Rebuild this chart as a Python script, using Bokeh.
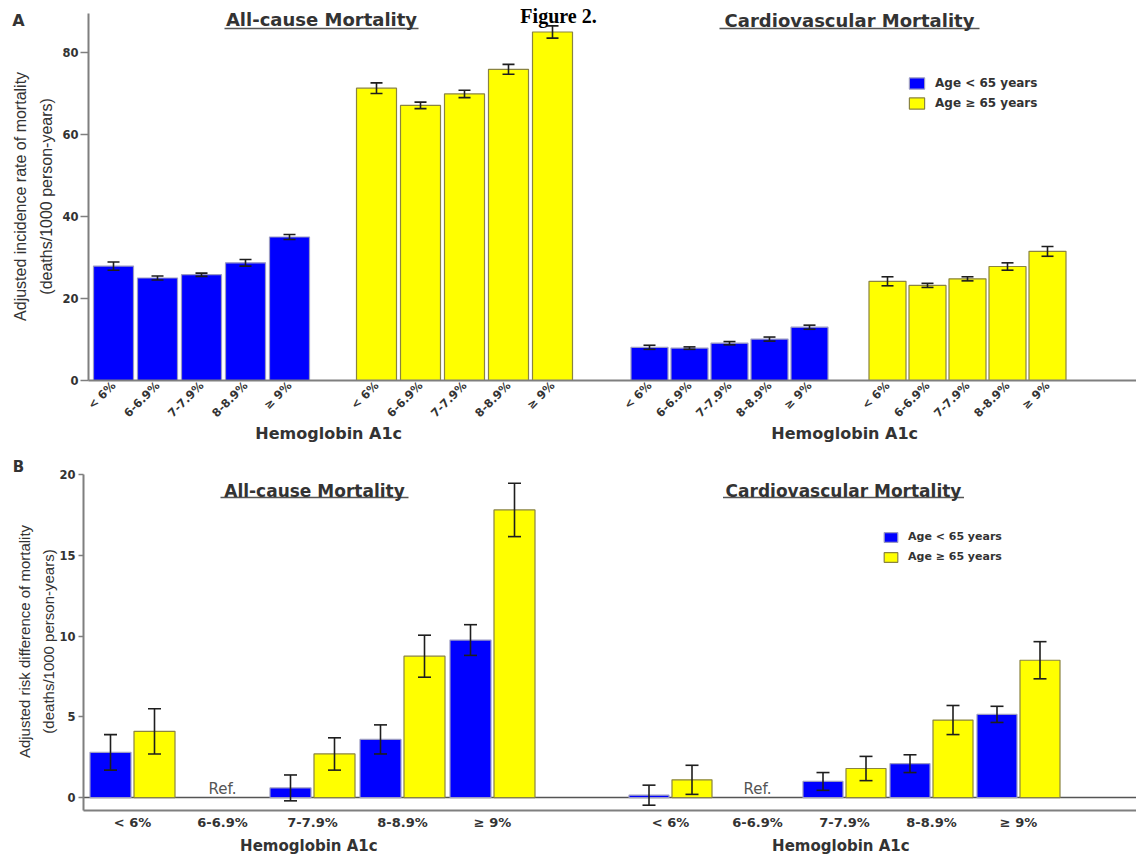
import math
from bokeh.plotting import figure
from bokeh.models import (Range1d, FixedTicker, ColumnDataSource, Whisker, TeeHead,
                          Label, Legend, LegendItem)
from bokeh.layouts import column
from bokeh.embed import file_html
from bokeh.resources import INLINE
from bokeh.core.properties import value

# ---------------- data ----------------
hba1c = ["< 6%", "6-6.9%", "7-7.9%", "8-8.9%", "\u2265 9%"]
age_groups = ["Age < 65 years", "Age \u2265 65 years"]
outcomes = ["All-cause Mortality", "Cardiovascular Mortality"]

# Panel A: adjusted incidence rate (deaths/1000 person-years)
inc_all_young = [27.9, 25.0, 25.8, 28.7, 35.0]
inc_all_young_err = [1.0, 0.5, 0.4, 0.8, 0.6]
inc_all_old = [71.3, 67.1, 69.9, 75.9, 85.0]
inc_all_old_err = [1.3, 0.8, 0.9, 1.2, 1.5]
inc_cv_young = [8.1, 7.9, 9.1, 10.1, 13.0]
inc_cv_young_err = [0.5, 0.3, 0.4, 0.5, 0.5]
inc_cv_old = [24.2, 23.2, 24.8, 27.8, 31.5]
inc_cv_old_err = [1.1, 0.5, 0.5, 0.9, 1.2]

# Panel B: adjusted risk difference vs. reference 6-6.9%
rd_all_young = [2.8, None, 0.6, 3.6, 9.75]
rd_all_young_err = [1.1, None, 0.8, 0.9, 0.95]
rd_all_old = [4.1, None, 2.7, 8.75, 17.8]
rd_all_old_err = [1.4, None, 1.0, 1.3, 1.65]
rd_cv_young = [0.15, None, 1.0, 2.1, 5.15]
rd_cv_young_err = [0.62, None, 0.55, 0.55, 0.5]
rd_cv_old = [1.1, None, 1.8, 4.8, 8.5]
rd_cv_old_err = [0.9, None, 0.75, 0.9, 1.15]

ref_text = "Ref."

# ---------------- style ----------------
BLUE, BLUE_EDGE = "#0000FF", "#9a9ac4"
YELLOW, YELLOW_EDGE = "#FFFF00", "#8a8440"
INK, AXIS, ERR = "#333333", "#7f7f7f", "#1e1e1e"
BOLD = "DejaVu Sans"
SANS = "Liberation Sans"
W = 1136


def base_fig(height, x_lo, x_hi, y_lo, y_hi, y_bounds, x_axis_at):
    # the frame fills the whole canvas; axes are pinned inside it
    p = figure(width=W, height=height, x_range=Range1d(x_lo, x_hi),
               y_range=Range1d(y_lo, y_hi), output_backend="svg",
               toolbar_location=None, min_border_left=0, min_border_right=0,
               min_border_top=0, min_border_bottom=0)
    p.outline_line_color = None
    p.xgrid.visible = False
    p.ygrid.visible = False
    xa, ya = p.xaxis[0], p.yaxis[0]
    ya.fixed_location = 0
    ya.bounds = y_bounds
    xa.fixed_location = x_axis_at
    xa.bounds = (0, x_hi)
    for ax in (xa, ya):
        ax.axis_line_color = AXIS
        ax.axis_line_width = 2
        ax.minor_tick_line_color = None
        ax.minor_tick_out = 0
        ax.minor_tick_in = 0
        ax.major_label_text_font = BOLD
        ax.major_label_text_font_style = "bold"
        ax.major_label_text_color = INK
    ya.major_tick_line_color = AXIS
    ya.major_tick_line_width = 1.5
    ya.major_tick_in = 0
    xa.major_tick_line_color = None
    xa.major_tick_out = 0
    xa.major_tick_in = 0
    return p


def add_bars(p, vals, errs, centres, width, fill, edge, cap):
    keep = [i for i, v in enumerate(vals) if v is not None]
    src = ColumnDataSource(dict(
        x=[centres[i] for i in keep],
        top=[vals[i] for i in keep],
        upper=[vals[i] + errs[i] for i in keep],
        lower=[vals[i] - errs[i] for i in keep],
    ))
    r = p.vbar(x="x", top="top", bottom=0, width=width, source=src,
               fill_color=fill, line_color=edge, line_width=1.2)
    p.add_layout(Whisker(base="x", upper="upper", lower="lower", source=src,
                         level="overlay", line_color=ERR, line_width=1.6,
                         upper_head=TeeHead(size=cap, line_color=ERR, line_width=1.6),
                         lower_head=TeeHead(size=cap, line_color=ERR, line_width=1.6)))
    return r


def label(p, text, x, y, size, font=BOLD, style="bold", color=INK, angle=0.0,
          align="center", baseline="middle"):
    p.add_layout(Label(x=x, y=y, text=text, text_font=font, text_font_style=style,
                       text_font_size=f"{size}px", text_color=color, angle=angle,
                       text_align=align, text_baseline=baseline))


def title(p, text, cx, y, half, y_line, size):
    label(p, text, cx, y, size)
    p.segment(x0=[cx - half], x1=[cx + half], y0=[y_line], y1=[y_line],
              line_color="#555555", line_width=1.6)


def legend(p, r_young, r_old, loc, gw, gh, size, spacing):
    lg = Legend(items=[LegendItem(label=age_groups[0], renderers=[r_young]),
                       LegendItem(label=age_groups[1], renderers=[r_old])],
                location=loc, orientation="vertical", background_fill_alpha=0,
                border_line_color=None, padding=0, margin=0, spacing=spacing,
                glyph_width=gw, glyph_height=gh, label_height=gh, label_standoff=9,
                label_text_font=BOLD, label_text_font_style="bold",
                label_text_font_size=f"{size}px", label_text_color=INK)
    p.add_layout(lg)


# ---------------- Panel A ----------------
A_H = 450
A_PX = 4.1                      # pixels per unit on the y axis
pa = base_fig(A_H, -88, W - 88, (380 - A_H) / A_PX, 380 / A_PX, (0, 89.5), 0)
pa.yaxis.ticker = FixedTicker(ticks=[0, 20, 40, 60, 80])
pa.yaxis.major_tick_out = 8
pa.yaxis.major_label_standoff = 2
pa.yaxis.major_label_text_font_size = "11.5px"

A_series = [  # values, errors, first centre, step, bar width, fill, edge
    (inc_all_young, inc_all_young_err, 25, 44, 40, BLUE, BLUE_EDGE),
    (inc_all_old, inc_all_old_err, 288, 44, 40, YELLOW, YELLOW_EDGE),
    (inc_cv_young, inc_cv_young_err, 561, 40, 37, BLUE, BLUE_EDGE),
    (inc_cv_old, inc_cv_old_err, 799, 40, 37, YELLOW, YELLOW_EDGE),
]
a_ticks, a_over, a_rend = [], {}, []
for vals, errs, start, step, width, fill, edge in A_series:
    centres = [start + step * i for i in range(len(hba1c))]
    a_rend.append(add_bars(pa, vals, errs, centres, width, fill, edge, 12))
    a_ticks += centres
    a_over.update({c: lab for c, lab in zip(centres, hba1c)})
pa.xaxis.ticker = FixedTicker(ticks=a_ticks)
pa.xaxis.major_label_overrides = a_over
pa.xaxis.major_label_orientation = math.pi / 4
pa.xaxis.major_label_text_font_size = "11.5px"
pa.xaxis.major_label_standoff = 3

label(pa, "A", -70, 87.8, 16)
label(pa, "Figure 2.", 470, 89.0, 20, font="Liberation Serif", color="#000000",
      baseline="alphabetic")
title(pa, outcomes[0], 233, 88.05, 97, 85.85, 18)
title(pa, outcomes[1], 761, 87.8, 130, 85.85, 18)
label(pa, "Adjusted incidence rate of mortality", -68, 44.9, 16, font=SANS,
      style="normal", angle=math.pi / 2)
label(pa, "(deaths/1000 person-years)", -42, 44.9, 16, font=SANS,
      style="normal", angle=math.pi / 2)
label(pa, "Hemoglobin  A1c", 243, -12.93, 16)
label(pa, "Hemoglobin  A1c", 759, -12.93, 16)
legend(pa, a_rend[0], a_rend[1], (907, A_H - 110), 19, 14, 12, 6)

# ---------------- Panel B ----------------
B_H = 856 - A_H
B_PX = 16.16
B_ZERO = 797.1 - A_H            # zero line, pixels from the top of panel B
pb = base_fig(B_H, -83, W - 83, (B_ZERO - B_H) / B_PX, B_ZERO / B_PX, (-0.8, 20), -0.8)
pb.yaxis.ticker = FixedTicker(ticks=[0, 5, 10, 15, 20])
pb.yaxis.major_tick_out = 5
pb.yaxis.major_label_standoff = 3
pb.yaxis.major_label_text_font_size = "11.5px"

B_series = [  # young, young err, old, old err, first centre, step, pair offset, width
    (rd_all_young, rd_all_young_err, rd_all_old, rd_all_old_err, 49, 90, 22, 41),
    (rd_cv_young, rd_cv_young_err, rd_cv_old, rd_cv_old_err, 587, 87, 21.5, 40),
]
pb.segment(x0=[0], x1=[W - 83], y0=[0], y1=[0], line_color="#555555", line_width=1.5)
b_ticks, b_over, b_rend = [], {}, []
for yv, ye, ov, oe, start, step, off, width in B_series:
    centres = [start + step * i for i in range(len(hba1c))]
    b_rend.append(add_bars(pb, yv, ye, [c - off for c in centres], width, BLUE, BLUE_EDGE, 13))
    b_rend.append(add_bars(pb, ov, oe, [c + off for c in centres], width, YELLOW, YELLOW_EDGE, 13))
    refs = [c for c, v in zip(centres, yv) if v is None]
    pb.text(x=refs, y=[0] * len(refs), text=[ref_text] * len(refs),
            text_font=value(BOLD), text_font_size="15px", text_color="#555555",
            text_align="center", text_baseline="middle", y_offset=-9)
    b_ticks += centres
    b_over.update({c: lab for c, lab in zip(centres, hba1c)})
pb.xaxis.ticker = FixedTicker(ticks=b_ticks)
pb.xaxis.major_label_overrides = b_over
pb.xaxis.major_label_text_font_size = "13px"
pb.xaxis.major_label_standoff = 4

label(pb, "B", -65, 20.43, 15)
title(pb, outcomes[0], 231, 19.0, 94, 18.57, 17)
title(pb, outcomes[1], 760, 19.0, 120.5, 18.57, 17)
label(pb, "Adjusted risk difference of mortality", -59, 9.66, 15, font=SANS,
      style="normal", angle=math.pi / 2)
label(pb, "(deaths/1000 person-years)", -35, 9.66, 15, font=SANS,
      style="normal", angle=math.pi / 2)
label(pb, "Hemoglobin  A1c", 228, (797.1 - 845) / B_PX, 15)
label(pb, "Hemoglobin  A1c", 760, (797.1 - 845) / B_PX, 15)
legend(pb, b_rend[0], b_rend[1], (882, B_H - (563 - A_H)), 17, 12, 11, 7)

layout = column(pa, pb, spacing=0)
open("out.html", "w").write(file_html(layout, INLINE))
